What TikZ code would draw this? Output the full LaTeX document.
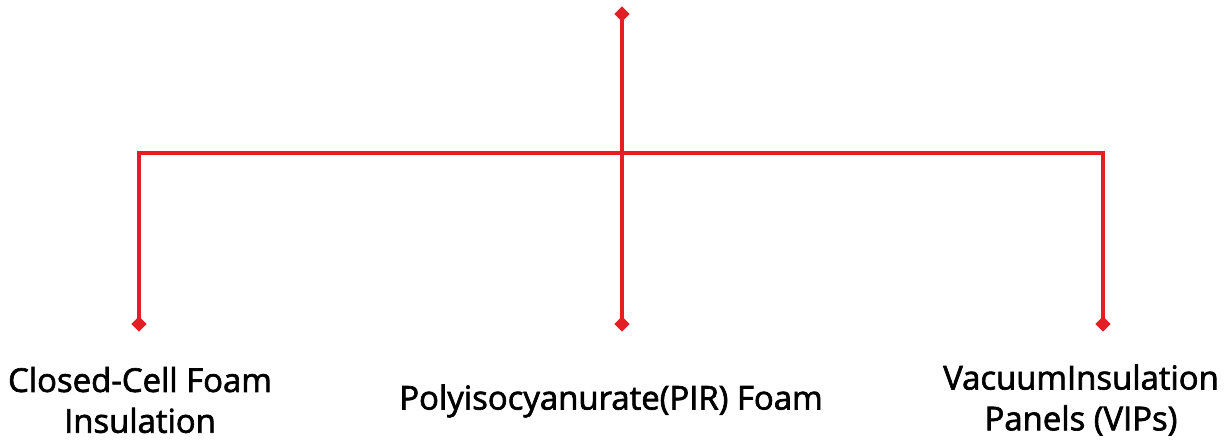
\documentclass[tikz,border=0pt]{standalone}
\usepackage{fontspec}
\setmainfont{Open Sans}
\newfontfamily\labelfont{Open Sans}[FakeBold=2]
\usepackage{tikz}
\usetikzlibrary{shapes.geometric,positioning,calc}
\definecolor{linered}{HTML}{E31E24}

\begin{document}
\begin{tikzpicture}[
  x=0.01cm, y=-0.01cm,
  dot/.style={diamond, fill=linered, draw=none, inner sep=0pt,
    minimum width=0.16cm, minimum height=0.16cm},
  link/.style={draw=linered, line width=0.9pt},
  label/.style={align=center, font=\labelfont\fontsize{9.35}{11.6}\selectfont,
    text=black, inner sep=0pt}
]
\useasboundingbox (0,0) rectangle (1231,439);
%% --- diamonds ---------------------------------------------------------------
\node[dot] (root)  at (622, 14)  {};
\node[dot] (left)  at (139, 324) {};
\node[dot] (mid)   at (622, 324) {};
\node[dot] (right) at (1103,324) {};
\coordinate (bar) at (622,153);
%% --- labels -----------------------------------------------------------------
\node[label] (lclosed) at (140, 400) {Closed-Cell Foam\\Insulation};
\node[label] (lpir)    at (611, 401) {Polyisocyanurate(PIR) Foam};
\node[label] (lvip)    at (1081,400) {VacuumInsulation\\Panels (VIPs)};
%% --- connectors -------------------------------------------------------------
\draw[link] (root.center) -- (mid.center);
\draw[link] (left.center) -- (left.center |- bar) -- (right.center |- bar) -- (right.center);
\end{tikzpicture}
\end{document}
